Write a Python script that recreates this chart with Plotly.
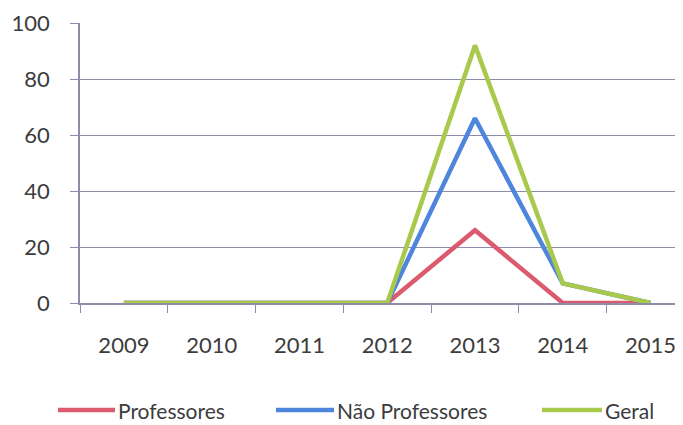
import plotly.graph_objs as go

anos = ['2009', '2010', '2011', '2012', '2013', '2014', '2015']
professores = [0, 0, 0, 0, 26, 0, 0]
nao_professores = [0, 0, 0, 0, 66, 7, 0]
geral = [0, 0, 0, 0, 92, 7, 0]

nomes = ['Professores', 'Não Professores', 'Geral']
cores = ['#dc5a6e', '#4d86dc', '#a8c94c']
valores = [professores, nao_professores, geral]

# page body has an 8px margin, so the figure is 8px smaller than the window
W, H = 675, 417
L, R, T, B = 72, 0, 15, 122
PW, PH = W - L - R, H - T - B


def px(x, y):
    # figure pixels -> paper coords
    return (x - L) / PW, (H - B - y) / PH


data = []
for name, vals, color in zip(nomes, valores, cores):
    data.append(go.Scatter(x=anos, y=vals, mode='lines', name=name,
                           line=dict(color=color, width=4.5)))

# legend drawn by hand so the line samples are as long as in the original
legend_pos = [(50, 107), (268, 326), (534, 594)]
legend_y = 402
shapes = []
annotations = []
for name, color, (x0, x1) in zip(nomes, cores, legend_pos):
    a0, yy = px(x0, legend_y)
    a1, _ = px(x1, legend_y)
    shapes.append(dict(type='line', xref='paper', yref='paper',
                       x0=a0, x1=a1, y0=yy, y1=yy,
                       line=dict(color=color, width=4.5)))
    t0, _ = px(x1 + 2, legend_y)
    annotations.append(dict(text=name, xref='paper', yref='paper',
                            x=t0, y=yy, xanchor='left', yanchor='middle',
                            showarrow=False, borderpad=0,
                            font=dict(size=21, color='#3c3c3c')))

layout = go.Layout(
    width=W,
    height=H,
    paper_bgcolor='white',
    plot_bgcolor='white',
    margin=dict(l=L, r=R, t=T, b=B),
    font=dict(family='Lato, Open Sans, sans-serif', size=22, color='#3c3c3c'),
    xaxis=dict(
        type='category',
        range=[-0.5, 6.37],
        showgrid=False,
        showline=True,
        linecolor='#8c8cab',
        linewidth=1.5,
        ticks='outside',
        tickson='boundaries',
        ticklen=8,
        tickcolor='#8c8cab',
        ticklabelstandoff=22,
        zeroline=False,
        automargin=False,
    ),
    yaxis=dict(
        range=[0, 100],
        dtick=20,
        showgrid=True,
        gridcolor='#8c8cab',
        gridwidth=1.2,
        showline=True,
        linecolor='#8c8cab',
        linewidth=1.5,
        ticks='outside',
        ticklen=8,
        tickcolor='#8c8cab',
        ticklabelstandoff=16,
        zeroline=False,
        automargin=False,
    ),
    shapes=shapes,
    annotations=annotations,
    showlegend=False,
)

fig = go.Figure(data=data, layout=layout)
fig.write_html("out.html")
